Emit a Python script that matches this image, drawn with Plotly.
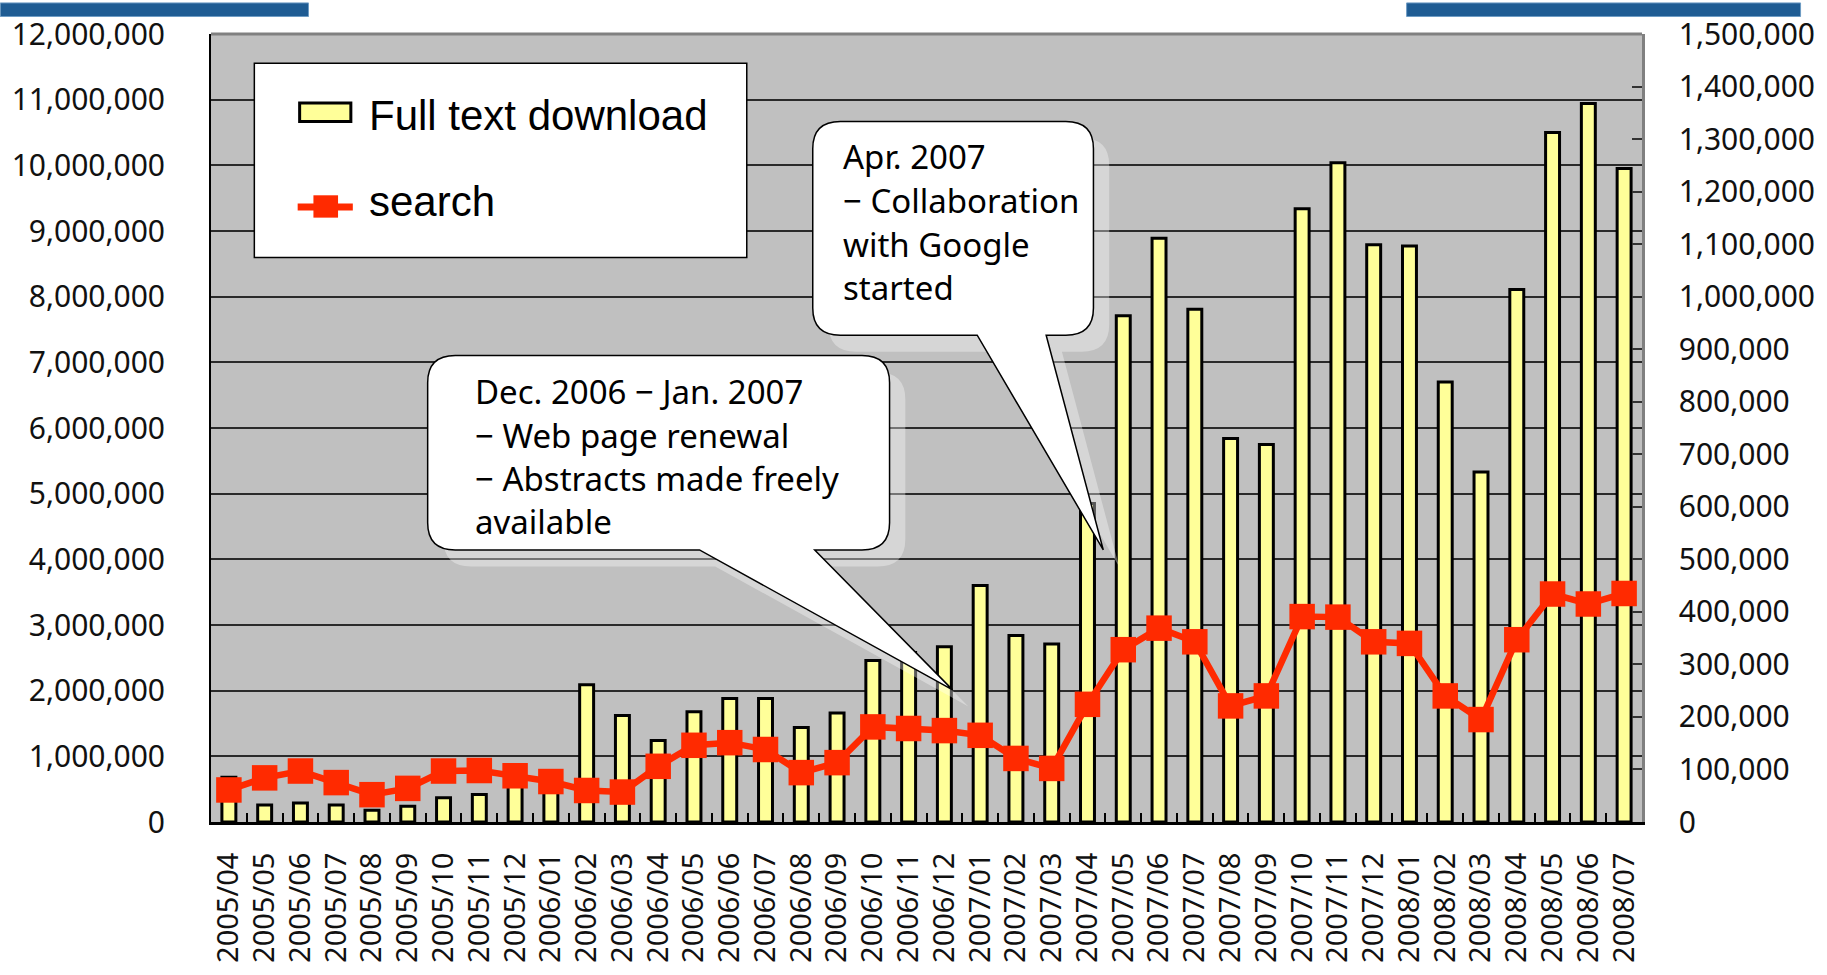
import plotly.graph_objects as go

# ---------------- data ----------------
months = [
    "2005/04", "2005/05", "2005/06", "2005/07", "2005/08", "2005/09", "2005/10", "2005/11", "2005/12",
    "2006/01", "2006/02", "2006/03", "2006/04", "2006/05", "2006/06", "2006/07", "2006/08", "2006/09",
    "2006/10", "2006/11", "2006/12", "2007/01", "2007/02", "2007/03", "2007/04", "2007/05", "2007/06",
    "2007/07", "2007/08", "2007/09", "2007/10", "2007/11", "2007/12", "2008/01", "2008/02", "2008/03",
    "2008/04", "2008/05", "2008/06", "2008/07",
]
full_text_download = [
    680000, 260000, 290000, 260000, 180000, 240000, 370000, 420000, 720000,
    620000, 2090000, 1620000, 1240000, 1680000, 1880000, 1880000, 1440000, 1660000,
    2460000, 2580000, 2670000, 3600000, 2840000, 2710000, 4850000, 7710000, 8890000,
    7810000, 5840000, 5750000, 9340000, 10040000, 8790000, 8770000, 6700000, 5330000,
    8110000, 10500000, 10940000, 9950000,
]
search = [
    61000, 84000, 97000, 75000, 52000, 64000, 97000, 98000, 88000,
    77000, 60000, 57000, 106000, 146000, 151000, 138000, 94000, 113000,
    181000, 178000, 174000, 165000, 121000, 102000, 224000, 328000, 369000,
    343000, 221000, 240000, 391000, 390000, 343000, 340000, 240000, 195000,
    347000, 434000, 415000, 435000,
]
legend_labels = ["Full text download", "search"]
callout1_lines = ["Dec. 2006 − Jan. 2007", "− Web page renewal", "− Abstracts made freely", "available"]
callout2_lines = ["Apr. 2007", "− Collaboration", "with Google", "started"]

# ---------------- geometry helpers (pixel -> paper) ----------------
W_FIG, H_FIG = 1827, 975
L, T, R, B = 204, 22, 1657, 833
PW, PH = R - L, B - T


def px(x):
    return (x - L) / PW


def py(y):
    return (B - y) / PH


def callout_path(x0, y0, x1, y1, r, tl, tr, tip, dx=0, dy=0):
    x0 += dx; x1 += dx; y0 += dy; y1 += dy
    tl += dx; tr += dx
    tx, ty = tip[0] + dx, tip[1] + dy
    pts = [
        ("M", (x0 + r, y0)), ("L", (x1 - r, y0)), ("Q", (x1, y0), (x1, y0 + r)),
        ("L", (x1, y1 - r)), ("Q", (x1, y1), (x1 - r, y1)),
        ("L", (tr, y1)), ("L", (tx, ty)), ("L", (tl, y1)),
        ("L", (x0 + r, y1)), ("Q", (x0, y1), (x0, y1 - r)),
        ("L", (x0, y0 + r)), ("Q", (x0, y0), (x0 + r, y0)),
    ]
    s = ""
    for item in pts:
        cmd = item[0]
        coords = " ".join(f"{px(a):.5f},{py(b):.5f}" for a, b in item[1:])
        s += f"{cmd} {coords} "
    return s + "Z"


YELLOW = "#FFFF99"
RED = "#FF2A00"
TICKFONT = dict(family="Noto Sans", size=30, color="#111111")

fig = go.Figure()
fig.add_trace(go.Bar(
    x=months, y=full_text_download, name=legend_labels[0],
    marker=dict(color=YELLOW, line=dict(color="black", width=3)),
    width=0.39, showlegend=False,
))
fig.add_trace(go.Scatter(
    x=months, y=search, name=legend_labels[1], yaxis="y2", mode="lines+markers",
    line=dict(color=RED, width=6.5),
    marker=dict(symbol="square", size=25.5, color=RED),
    showlegend=False,
))

shapes = []
annotations = []

# top border of plot area
shapes.append(dict(type="line", xref="paper", yref="paper", x0=0, x1=1, y0=1, y1=1,
                    line=dict(color="#808080", width=3), layer="above"))

# slide header slivers at the very top
for xa, xb in [(-10, 303), (1418, 1818)]:
    shapes.append(dict(type="rect", xref="paper", yref="paper",
                       x0=px(xa), x1=px(xb), y0=py(4), y1=py(-10),
                       fillcolor="#1F5C93", line=dict(color="#6E9CC4", width=1), layer="above"))

# legend box
shapes.append(dict(type="rect", xref="paper", yref="paper",
                   x0=px(248), x1=px(748), y0=py(252), y1=py(52),
                   fillcolor="white", line=dict(color="black", width=1.5), layer="above"))
shapes.append(dict(type="rect", xref="paper", yref="paper",
                   x0=px(294), x1=px(346), y0=py(112), y1=py(93),
                   fillcolor=YELLOW, line=dict(color="black", width=3), layer="above"))
shapes.append(dict(type="line", xref="paper", yref="paper",
                   x0=px(292), x1=px(348), y0=py(200), y1=py(200),
                   line=dict(color=RED, width=7), layer="above"))
shapes.append(dict(type="rect", xref="paper", yref="paper",
                   x0=px(308), x1=px(333), y0=py(211), y1=py(188),
                   fillcolor=RED, line=dict(width=0), layer="above"))
annotations.append(dict(xref="paper", yref="paper", x=px(362), y=py(106), text=legend_labels[0],
                        showarrow=False, xanchor="left", yanchor="middle",
                        font=dict(family="Liberation Sans, Arial", size=42, color="black")))
annotations.append(dict(xref="paper", yref="paper", x=px(362), y=py(194), text=legend_labels[1],
                        showarrow=False, xanchor="left", yanchor="middle",
                        font=dict(family="Liberation Sans, Arial", size=42, color="black")))

# callouts: (box x0, y0, x1, y1, tail-left, tail-right, tip)
callouts = [
    (424, 353, 893, 553, 700, 817, (957, 697)),
    (815, 112, 1100, 332, 982, 1052, (1110, 553)),
]
for (x0, y0, x1, y1, tl, tr, tip) in callouts:
    shapes.append(dict(type="path", xref="paper", yref="paper",
                       path=callout_path(x0, y0, x1, y1, 28, tl, tr, tip, 16, 17),
                       fillcolor="rgba(255,255,255,0.35)", line=dict(width=0), layer="above"))
for (x0, y0, x1, y1, tl, tr, tip) in callouts:
    shapes.append(dict(type="path", xref="paper", yref="paper",
                       path=callout_path(x0, y0, x1, y1, 28, tl, tr, tip),
                       fillcolor="white", line=dict(color="black", width=1.5), layer="above"))

CFONT = dict(family="Noto Sans", size=33, color="black")
for lines, xl, ys in [(callout1_lines, 470, [390, 435, 479, 524]),
                      (callout2_lines, 844, [148, 193, 239, 283])]:
    for txt, yc in zip(lines, ys):
        annotations.append(dict(xref="paper", yref="paper", x=px(xl), y=py(yc), text=txt,
                                showarrow=False, xanchor="left", yanchor="middle", font=CFONT))

fig.update_layout(
    width=W_FIG, height=H_FIG, autosize=False,
    margin=dict(l=L, r=W_FIG - R, t=T, b=H_FIG - B, pad=0),
    paper_bgcolor="white", plot_bgcolor="#C0C0C0",
    xaxis=dict(type="category", range=[-0.5, len(months) - 0.5], tickmode="linear", tick0=0, dtick=1,
               tickangle=-90, tickfont=dict(family="Noto Sans", size=29, color="#111111"),
               ticks="inside", ticklen=9, tickwidth=1.5, tickcolor="black", tickson="boundaries",
               showline=True, linecolor="black", linewidth=3, showgrid=False,
               ticklabelstandoff=16),
    yaxis=dict(range=[0, 12000000], dtick=1000000, tickformat=",d", tickfont=TICKFONT,
               showgrid=True, gridcolor="#2a2a2a", gridwidth=1.5, zeroline=False,
               showline=True, linecolor="black", linewidth=2, ticks="",
               ticklabelstandoff=38),
    yaxis2=dict(range=[0, 1500000], dtick=100000, tickformat=",d", tickfont=TICKFONT,
                overlaying="y", side="right", showgrid=False, zeroline=False,
                ticks="inside", ticklen=10, tickwidth=1.5, tickcolor="#333333",
                showline=True, linecolor="#808080", linewidth=2.5, ticklabelstandoff=28),
    shapes=shapes,
    annotations=annotations,
    showlegend=False,
)

fig.write_html(
    "out.html",
    config={"displayModeBar": False},
    post_script="document.body.style.margin='0';document.body.style.padding='0';"
                "document.body.style.overflow='hidden';",
)
